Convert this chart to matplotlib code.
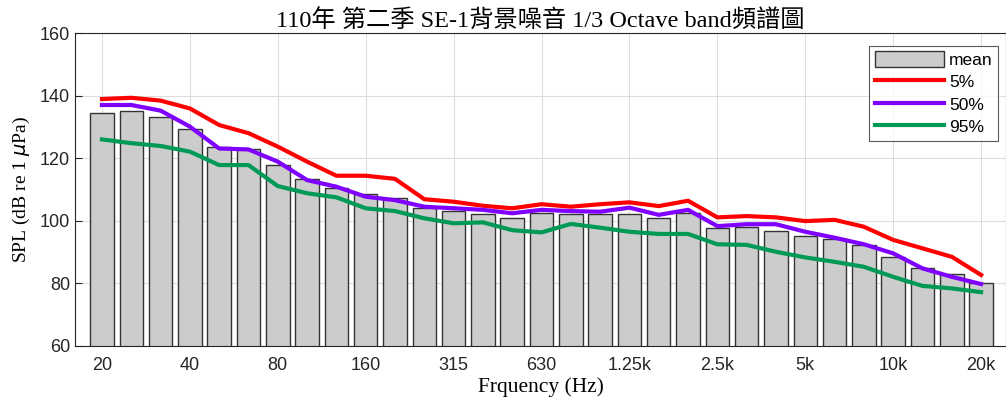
import matplotlib.pyplot as plt
import numpy as np

# 1/3 octave band centre frequencies (Hz)
bands = ["20", "25", "31.5", "40", "50", "63", "80", "100", "125", "160",
         "200", "250", "315", "400", "500", "630", "800", "1k", "1.25k", "1.6k",
         "2k", "2.5k", "3.15k", "4k", "5k", "6.3k", "8k", "10k", "12.5k", "16k", "20k"]

spl_mean = [134.4, 135.0, 133.1, 129.4, 123.7, 122.8, 117.9, 113.5, 110.4, 108.7,
            107.4, 104.2, 103.2, 102.2, 100.8, 102.4, 102.1, 102.1, 102.2, 100.8,
            102.6, 97.6, 98.1, 96.8, 95.2, 94.1, 92.3, 88.5, 85.0, 82.9, 80.0]

spl_5 = [138.9, 139.3, 138.4, 135.9, 130.6, 128.0, 123.7, 118.9, 114.4, 114.4,
         113.4, 106.9, 106.1, 104.8, 104.0, 105.3, 104.5, 105.3, 105.9, 104.7,
         106.4, 101.1, 101.5, 101.1, 99.9, 100.3, 98.1, 93.9, 91.2, 88.5, 82.7]

spl_50 = [137.0, 137.0, 135.2, 130.1, 123.1, 122.8, 118.9, 113.0, 110.9, 107.7,
          106.6, 104.5, 104.0, 103.5, 102.4, 103.5, 103.1, 102.9, 104.2, 101.9,
          103.5, 98.3, 98.9, 98.9, 96.5, 94.6, 92.5, 89.6, 84.8, 82.1, 79.8]

spl_95 = [126.0, 124.8, 123.9, 122.1, 117.8, 117.8, 111.1, 108.8, 107.5, 104.0,
          103.1, 100.8, 99.2, 99.5, 97.0, 96.3, 99.0, 97.8, 96.5, 95.8,
          95.8, 92.5, 92.3, 90.1, 88.3, 86.9, 85.3, 82.1, 79.2, 78.4, 77.2]

tick_idx = list(range(0, 31, 3))

plt.rcParams['font.family'] = ['Liberation Sans', 'DejaVu Sans']
serif_cjk = ['Liberation Serif', 'Noto Sans CJK TC']

fig = plt.figure(figsize=(10.06, 4.03), dpi=100)
ax = fig.add_axes([75 / 1006, 57 / 403, 931 / 1006, 313 / 403])

x = np.arange(1, len(bands) + 1)
bars = ax.bar(x, spl_mean, width=0.8, color='#cccccc', edgecolor='#333333',
              linewidth=1.0, label='mean', zorder=2)
l5, = ax.plot(x, spl_5, color='#ff0000', lw=3, label='5%', zorder=3)
l50, = ax.plot(x, spl_50, color='#7f00ff', lw=3, label='50%', zorder=3)
l95, = ax.plot(x, spl_95, color='#009955', lw=3, label='95%', zorder=3)

ax.set_xlim(0.08, 31.85)
ax.set_ylim(60, 160)
ax.set_yticks(range(60, 161, 20))
ax.set_xticks([x[i] for i in tick_idx])
ax.set_xticklabels([bands[i] for i in tick_idx])
ax.tick_params(direction='in', labelsize=13, length=5, color='#262626',
               labelcolor='#262626')
ax.tick_params(axis='x', pad=8)
ax.grid(True, color='#dddddd', linewidth=0.8, zorder=0)
ax.set_axisbelow(True)
for s in ax.spines.values():
    s.set_color('#262626')
    s.set_linewidth(0.8)

ax.set_title('110年 第二季 SE-1背景噪音 1/3 Octave band頻譜圖',
             family=serif_cjk, fontsize=17.5, pad=4)
ax.set_xlabel('Frquency (Hz)', family=serif_cjk, fontsize=15.5, labelpad=2)
ax.set_ylabel(r'SPL (dB re 1 $\mu$Pa)', family=serif_cjk, fontsize=14, labelpad=6)

leg = ax.legend([bars, l5, l50, l95], ['mean', '5%', '50%', '95%'],
                loc='upper right', bbox_to_anchor=(0.9915, 0.96), fontsize=12.5,
                frameon=True, fancybox=False, edgecolor='#333333',
                handlelength=4.0, handleheight=1.1, handletextpad=0.3,
                borderpad=0.3, labelspacing=0.3, borderaxespad=0)
leg.get_frame().set_linewidth(0.8)

fig.savefig('out.png', dpi=100)
